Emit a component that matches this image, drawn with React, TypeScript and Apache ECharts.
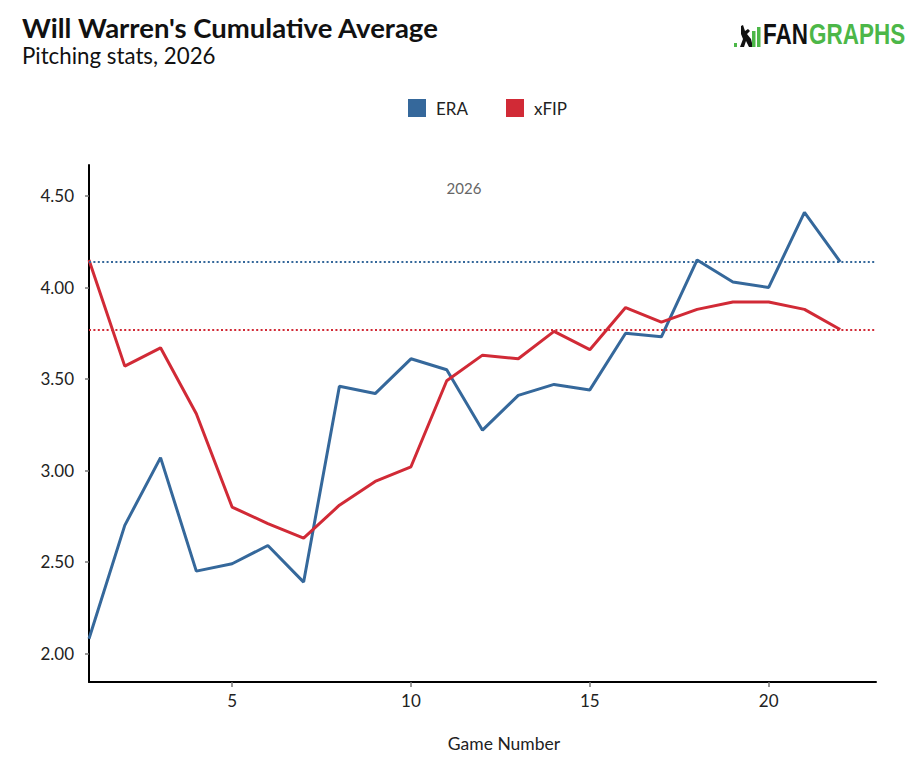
import { useEffect, useRef } from "react";
import * as echarts from "echarts";

const GAMES = [1, 2, 3, 4, 5, 6, 7, 8, 9, 10, 11, 12, 13, 14, 15, 16, 17, 18, 19, 20, 21, 22];
const ERA = [2.08, 2.7, 3.07, 2.45, 2.49, 2.59, 2.39, 3.46, 3.42, 3.61, 3.55, 3.22, 3.41, 3.47, 3.44, 3.75, 3.73, 4.15, 4.03, 4.0, 4.41, 4.14];
const XFIP = [4.15, 3.57, 3.67, 3.31, 2.8, 2.71, 2.63, 2.81, 2.94, 3.02, 3.49, 3.63, 3.61, 3.76, 3.66, 3.89, 3.81, 3.88, 3.92, 3.92, 3.88, 3.77];
const SEASON_ERA = 4.14;
const SEASON_XFIP = 3.77;
const Y_TICKS = [2, 2.5, 3, 3.5, 4, 4.5];
const X_TICKS = [5, 10, 15, 20];

const BLUE = "#35689b";
const RED = "#d12a36";
const GREEN = "#4cb748";
const FONT = "Lato, 'Noto Sans', sans-serif";

export default function App() {
  const chartRef = useRef<HTMLDivElement>(null);

  useEffect(() => {
    if (!chartRef.current) return;
    document.body.style.margin = "0";
    const chart = echarts.init(chartRef.current, null, { renderer: "svg" });

    const lineSeries = (name: string, values: number[], color: string, avg: number) => ({
      name,
      type: "line",
      data: GAMES.map((g, i) => [g, values[i]]),
      symbol: "none",
      lineStyle: { color, width: 3 },
      itemStyle: { color },
      markLine: {
        silent: true,
        symbol: ["none", "none"],
        label: { show: false },
        lineStyle: { color, width: 2, type: [2, 2.4] },
        data: [{ yAxis: avg }],
      },
    });

    chart.setOption({
      animation: false,
      textStyle: { fontFamily: FONT },
      legend: {
        left: 403,
        top: 94,
        icon: "rect",
        itemWidth: 18,
        itemHeight: 18,
        itemGap: 38,
        textStyle: { fontSize: 17, color: "#222", fontFamily: FONT, padding: [0, 0, 0, 5] },
        data: ["ERA", "xFIP"],
      },
      grid: { left: 89, right: 45, top: 165, bottom: 78 },
      xAxis: {
        type: "value",
        min: 1,
        max: 23,
        axisLine: { lineStyle: { color: "#000", width: 2 } },
        axisTick: { customValues: X_TICKS, length: 5, lineStyle: { color: "#777", width: 1.5 } },
        axisLabel: { customValues: X_TICKS, fontSize: 17, color: "#222", margin: 10 },
        splitLine: { show: false },
      },
      yAxis: {
        type: "value",
        min: 1.844,
        max: 4.669,
        axisLine: { show: true, lineStyle: { color: "#000", width: 2 } },
        axisTick: { show: true, customValues: Y_TICKS, length: 4, lineStyle: { color: "#777", width: 1.5 } },
        axisLabel: {
          customValues: Y_TICKS,
          fontSize: 17,
          color: "#222",
          margin: 15,
          formatter: (v: number) => v.toFixed(2),
        },
        splitLine: { show: false },
      },
      graphic: [
        {
          type: "text",
          left: 22,
          top: 13,
          style: { text: "Will Warren's Cumulative Average", fontSize: 27.5, fontWeight: "bold", fill: "#111", fontFamily: FONT },
        },
        {
          type: "text",
          left: 22,
          top: 44,
          style: { text: "Pitching stats, 2026", fontSize: 22.3, fill: "#111", fontFamily: FONT },
        },
        {
          type: "text",
          x: 464,
          y: 188,
          style: { text: "2026", fontSize: 15, fill: "#666", fontFamily: FONT, align: "center", verticalAlign: "middle" },
        },
        {
          type: "text",
          x: 504,
          y: 743,
          style: { text: "Game Number", fontSize: 17.5, fill: "#222", fontFamily: FONT, align: "center", verticalAlign: "middle" },
        },
        // FanGraphs logo
        { type: "rect", shape: { x: 734, y: 43, width: 3, height: 4 }, style: { fill: GREEN } },
        {
          type: "polygon",
          shape: {
            points: [
              [741, 26], [743, 25], [745, 31], [748, 29], [750, 31], [747, 34], [751, 39],
              [753, 47], [749, 47], [746, 41], [744, 47], [740, 47], [743, 39], [741, 34],
            ],
          },
          style: { fill: "#111" },
        },
        { type: "rect", shape: { x: 752, y: 31, width: 3.5, height: 16 }, style: { fill: GREEN } },
        { type: "rect", shape: { x: 757, y: 27, width: 3.5, height: 20 }, style: { fill: GREEN } },
        {
          type: "group",
          x: 763,
          y: 48,
          scaleX: 0.775,
          children: [
            {
              type: "text",
              x: 0,
              y: 0,
              style: { text: "FAN", fontSize: 29, fontWeight: "bold", fill: "#111", fontFamily: "'Liberation Sans', Arial, sans-serif", verticalAlign: "bottom" },
            },
            {
              type: "text",
              x: 59.5,
              y: 0,
              style: { text: "GRAPHS", fontSize: 29, fontWeight: "bold", fill: GREEN, fontFamily: "'Liberation Sans', Arial, sans-serif", verticalAlign: "bottom" },
            },
          ],
        },
      ],
      series: [
        lineSeries("ERA", ERA, BLUE, SEASON_ERA),
        lineSeries("xFIP", XFIP, RED, SEASON_XFIP),
      ],
    });

    return () => {
      chart.dispose();
    };
  }, []);

  return <div ref={chartRef} style={{ width: 921, height: 760 }} />;
}
